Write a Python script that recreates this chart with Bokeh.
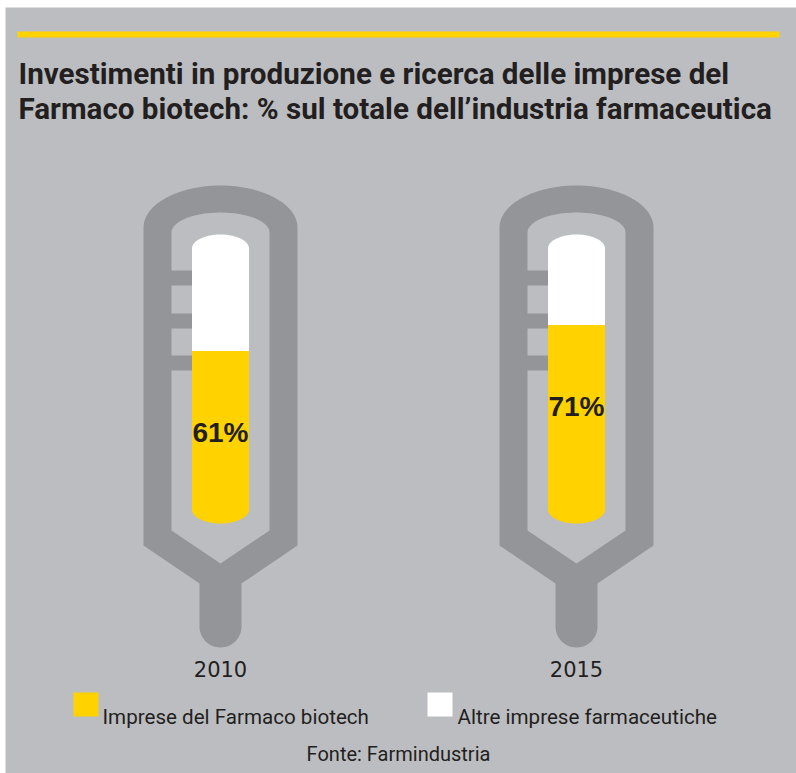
import numpy as np
from bokeh.plotting import figure
from bokeh.models import Range1d
from bokeh.embed import file_html
from bokeh.resources import INLINE
from bokeh.core.properties import value

# ---------------- data ----------------
years = ["2010", "2015"]
biotech_pct = [61, 71]
pct_labels = ["61%", "71%"]
legend_labels = ["Imprese del Farmaco biotech", "Altre imprese farmaceutiche"]
title_lines = ["Investimenti in produzione e ricerca delle imprese del",
               "Farmaco biotech: % sul totale dell\u2019industria farmaceutica"]
source_note = "Fonte: Farmindustria"

# ---------------- style ----------------
BG = "#bcbdc1"
DARK = "#939599"
YELLOW = "#ffd200"
WHITE = "#ffffff"
TEXT = "#231f20"
TITLE_FONT = "Roboto"
BODY_FONT = "Roboto"

W, H = 796, 773
p = figure(width=W, height=H, x_range=Range1d(0, W), y_range=Range1d(H, 0),
           output_backend="svg", toolbar_location=None, min_border=0,
           background_fill_color=WHITE, border_fill_color=WHITE, outline_line_color=None)
p.xaxis.visible = False
p.yaxis.visible = False
p.xgrid.visible = False
p.ygrid.visible = False

# panel
p.quad(left=[5], right=[W], top=[7], bottom=[H], fill_color=BG, line_color=None)

# page-pixel layout of the thermometers
centers = [220, 576]
TUBE_ZERO = 509.0      # pixel y of 0 %
PX_PER_PCT = 2.6       # pixels per percentage point


def arc(cx, cy, rx, ry, t0, t1, n=40):
    t = np.linspace(t0, t1, n)
    return list(cx + rx * np.cos(t)), list(cy - ry * np.sin(t))


outer_xs, outer_ys, inner_xs, inner_ys = [], [], [], []
tube_xs, tube_ys, fill_xs, fill_ys = [], [], [], []
tick_l, tick_r, tick_t, tick_b = [], [], [], []
label_y = []
for cx, v in zip(centers, biotech_pct):
    # outer body
    ax, ay = arc(cx, 227, 77, 42, np.pi, 0)
    bx, by = arc(cx, 626, 21, -21, 0, np.pi)
    xs = [cx - 77] + ax + [cx + 77, cx + 21] + bx + [cx - 21]
    ys = [545] + ay + [545, 583] + by + [583]
    outer_xs.append(xs); outer_ys.append(ys)
    # inner hollow
    ax, ay = arc(cx, 232, 49, 20, np.pi, 0)
    xs = [cx - 49] + ax + [cx + 49, cx]
    ys = [530] + ay + [530, 563]
    inner_xs.append(xs); inner_ys.append(ys)
    # tube (white)
    ax, ay = arc(cx, 248, 28.5, 14, np.pi, 0)
    tube_xs.append([cx - 28.5] + ax + [cx + 28.5])
    tube_ys.append([TUBE_ZERO] + ay + [TUBE_ZERO])
    # fill (yellow)
    top = TUBE_ZERO - PX_PER_PCT * v
    bx, by = arc(cx, TUBE_ZERO, 28.5, -14, 0, np.pi)
    fill_xs.append([cx - 28.5, cx + 28.5] + bx)
    fill_ys.append([top, top] + by)
    label_y.append(top + 82)
    # ticks
    for ty in (270, 313, 355):
        tick_l.append(cx - 50); tick_r.append(cx - 28)
        tick_t.append(ty); tick_b.append(ty + 15)

p.patches(outer_xs, outer_ys, fill_color=DARK, line_color=None)
p.patches(inner_xs, inner_ys, fill_color=BG, line_color=None)
p.quad(left=tick_l, right=tick_r, top=tick_t, bottom=tick_b, fill_color=DARK, line_color=None)
p.patches(tube_xs, tube_ys, fill_color=WHITE, line_color=None)
p.patches(fill_xs, fill_ys, fill_color=YELLOW, line_color=None)

p.text(x=centers, y=label_y, text=pct_labels, text_align="center", text_baseline="middle",
       text_font=value("Liberation Sans"), text_font_style="bold", text_font_size="28px",
       text_color=TEXT)
p.text(x=centers, y=[668, 668], text=years, text_align="center", text_baseline="middle",
       text_font=value("DejaVu Sans"), text_font_size="21px", text_color=TEXT)

# top yellow rule
p.quad(left=[17], right=[779], top=[31], bottom=[37], fill_color=YELLOW, line_color=None)

# title
p.text(x=[18, 18], y=[73, 108], text=title_lines, text_align="left", text_baseline="alphabetic",
       text_font=value(TITLE_FONT), text_font_style="bold", text_font_size="29.6px",
       text_color=TEXT)

# legend
p.quad(left=[73, 427], right=[98, 452], top=[692, 692], bottom=[716, 716],
       fill_color=[YELLOW, WHITE], line_color=None)
p.text(x=[102, 457], y=[716, 716], text=legend_labels, text_align="left",
       text_baseline="alphabetic", text_font=value(BODY_FONT), text_font_size="20.6px",
       text_color=TEXT)

p.text(x=[398], y=[753], text=[source_note], text_align="center", text_baseline="alphabetic",
       text_font=value(BODY_FONT), text_font_size="20px", text_color=TEXT)

open("out.html", "w").write(file_html(p, INLINE))
